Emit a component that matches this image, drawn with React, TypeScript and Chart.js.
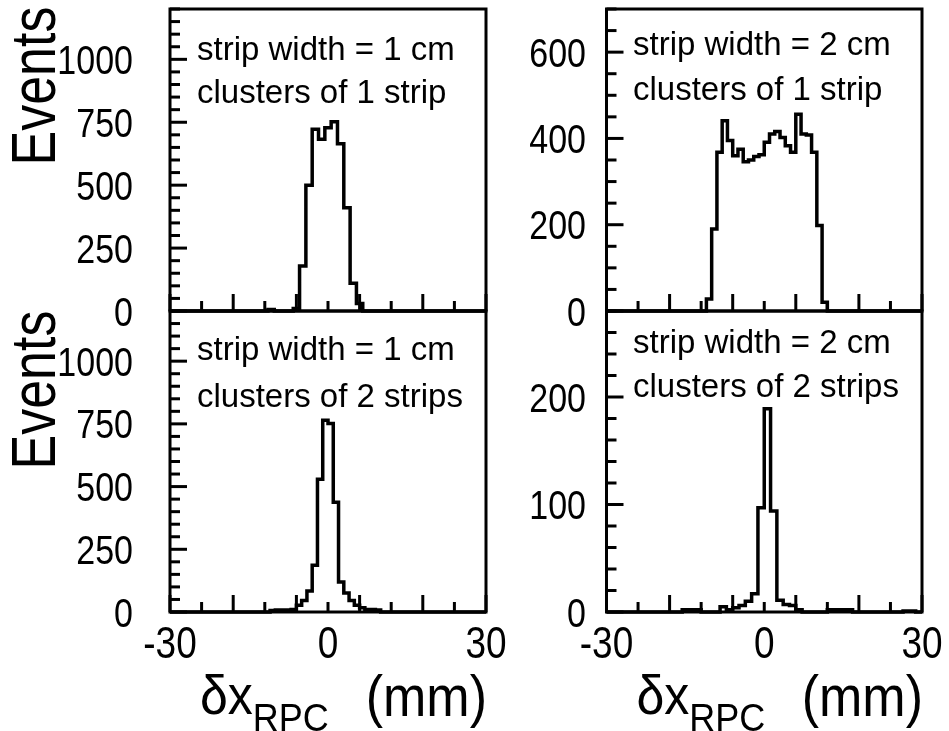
import React, { useEffect, useRef } from "react";
import { Chart, registerables } from "chart.js";

Chart.register(...registerables);

// ---------------- data ----------------
const X_MIN = -30;
const X_MAX = 30;
const X_MAJOR_TICKS = [-30, -18, -6, 6, 18, 30];
const X_MINOR_TICKS = [-24, -12, 0, 12, 24];
const X_TICK_LABELS = [-30, 0, 30];

// top-left: strip width = 1 cm, clusters of 1 strip
const TL_BIN_START = -11.4;
const TL_BIN_WIDTH = 1.2;
const TL_COUNTS = [6, 0, 0, 0, 10, 179, 500, 722, 682, 728, 752, 665, 410, 110, 30];
const TL_Y_MAX = 1200;
const TL_Y_LABELS = [0, 250, 500, 750, 1000];

// top-right: strip width = 2 cm, clusters of 1 strip
const TR_BIN_START = -11;
const TR_BIN_WIDTH = 1;
const TR_COUNTS = [28, 190, 368, 441, 395, 360, 375, 346, 350, 358, 362, 391, 410, 416, 402, 383, 368, 456, 410, 408, 368, 198, 20];
const TR_Y_MAX = 700;
const TR_Y_LABELS = [0, 200, 400, 600];

// bottom-left: strip width = 1 cm, clusters of 2 strips
const BL_BIN_START = -11;
const BL_BIN_WIDTH = 1;
const BL_COUNTS = [6, 8, 8, 8, 10, 27, 46, 84, 186, 529, 764, 751, 438, 120, 76, 46, 27, 17, 10, 10, 8];
const BL_Y_MAX = 1200;
const BL_Y_LABELS = [0, 250, 500, 750, 1000];

// bottom-right: strip width = 2 cm, clusters of 2 strips
const BR_BIN_START = -15.6;
const BR_BIN_WIDTH = 1.2;
const BR_COUNTS = [2, 2, 2, 0, 0, 0, 5, 2, 4, 6, 10, 17, 97, 189, 94, 11, 7, 6, 2, 0, 0, 0, 0, 2, 2, 2, 2, 0, 0, 0, 0, 0, 0, 0, 0, 1, 1];
const BR_Y_MAX = 280;
const BR_Y_LABELS = [0, 100, 200];

const LINE1_1CM = "strip width = 1 cm";
const LINE1_2CM = "strip width = 2 cm";
const LINE2_1 = "clusters of 1 strip";
const LINE2_2 = "clusters of 2 strips";
const Y_TITLE = "Events";

// ---------------- layout / style ----------------
const W = 949;
const H = 731;
const FONT = '"Liberation Sans", Arial, Helvetica, sans-serif';

type Panel = {
  key: string;
  left: number; right: number; top: number; bottom: number;
  binStart: number; binWidth: number; counts: number[];
  yMax: number; yMajor: number; yMinor: number; yLabels: number[];
  yLabelRight: number;
  text1: string; text2: string; textX: number; base1: number; base2: number;
  xLabels: boolean; xTitle: boolean;
  yTitleY: number | null;
};

const PANELS: Panel[] = [
  { key: "tl", left: 170, right: 486, top: 9, bottom: 311,
    binStart: TL_BIN_START, binWidth: TL_BIN_WIDTH, counts: TL_COUNTS,
    yMax: TL_Y_MAX, yMajor: 250, yMinor: 50, yLabels: TL_Y_LABELS, yLabelRight: 133,
    text1: LINE1_1CM, text2: LINE2_1, textX: 197, base1: 60, base2: 103,
    xLabels: false, xTitle: false, yTitleY: 86 },
  { key: "tr", left: 606.5, right: 922, top: 9, bottom: 311,
    binStart: TR_BIN_START, binWidth: TR_BIN_WIDTH, counts: TR_COUNTS,
    yMax: TR_Y_MAX, yMajor: 200, yMinor: 50, yLabels: TR_Y_LABELS, yLabelRight: 586,
    text1: LINE1_2CM, text2: LINE2_1, textX: 633, base1: 55, base2: 100,
    xLabels: false, xTitle: false, yTitleY: null },
  { key: "bl", left: 170, right: 486, top: 311, bottom: 612,
    binStart: BL_BIN_START, binWidth: BL_BIN_WIDTH, counts: BL_COUNTS,
    yMax: BL_Y_MAX, yMajor: 250, yMinor: 50, yLabels: BL_Y_LABELS, yLabelRight: 133,
    text1: LINE1_1CM, text2: LINE2_2, textX: 197, base1: 360, base2: 407,
    xLabels: true, xTitle: true, yTitleY: 390 },
  { key: "br", left: 606.5, right: 922, top: 311, bottom: 612,
    binStart: BR_BIN_START, binWidth: BR_BIN_WIDTH, counts: BR_COUNTS,
    yMax: BR_Y_MAX, yMajor: 100, yMinor: 20, yLabels: BR_Y_LABELS, yLabelRight: 586,
    text1: LINE1_2CM, text2: LINE2_2, textX: 633, base1: 353, base2: 397,
    xLabels: true, xTitle: true, yTitleY: null },
];

function histPoints(start: number, width: number, counts: number[]) {
  const pts: { x: number; y: number }[] = [{ x: X_MIN, y: 0 }];
  counts.forEach((c, i) => pts.push({ x: start + i * width, y: c }));
  pts.push({ x: start + counts.length * width, y: 0 });
  pts.push({ x: X_MAX, y: 0 });
  return pts;
}

function text(ctx: CanvasRenderingContext2D, s: string, x: number, y: number, size: number,
  align: CanvasTextAlign = "left", sx = 1, sy = 1) {
  ctx.save();
  ctx.translate(x, y);
  ctx.scale(sx, sy);
  ctx.font = `${size}px ${FONT}`;
  ctx.textAlign = align;
  ctx.textBaseline = "alphabetic";
  ctx.fillStyle = "#000";
  ctx.fillText(s, 0, 0);
  ctx.restore();
}

function makeDecor(p: Panel) {
  return {
    id: "decor_" + p.key,
    afterDatasetsDraw(chart: any) {
      const ctx: CanvasRenderingContext2D = chart.ctx;
      const a = chart.chartArea;
      const xs = chart.scales.x;
      const ys = chart.scales.y;
      ctx.save();
      ctx.strokeStyle = "#000";
      ctx.lineWidth = 3;
      ctx.lineCap = "butt";
      ctx.strokeRect(a.left, a.top, a.right - a.left, a.bottom - a.top);
      const seg = (x1: number, y1: number, x2: number, y2: number) => {
        ctx.beginPath(); ctx.moveTo(x1, y1); ctx.lineTo(x2, y2); ctx.stroke();
      };
      X_MAJOR_TICKS.forEach((v) => { const px = xs.getPixelForValue(v); seg(px, a.bottom, px, a.bottom - 17); });
      X_MINOR_TICKS.forEach((v) => { const px = xs.getPixelForValue(v); seg(px, a.bottom, px, a.bottom - 10); });
      for (let v = 0; v <= p.yMax + 1e-9; v += p.yMinor) {
        const py = ys.getPixelForValue(v);
        const major = Math.abs(v / p.yMajor - Math.round(v / p.yMajor)) < 1e-6;
        seg(a.left, py, a.left + (major ? 17 : 10), py);
      }
      ctx.restore();

      // y labels
      p.yLabels.forEach((v) => {
        const py = ys.getPixelForValue(v);
        text(ctx, String(v), p.yLabelRight, py + 14.5, 34, "right", 1, 1.22);
      });
      // x labels
      if (p.xLabels) {
        X_TICK_LABELS.forEach((v) => {
          const px = xs.getPixelForValue(v);
          text(ctx, String(v), px, 658, 37, "center", 1, 1.18);
        });
      }
      // annotation
      text(ctx, p.text1, p.textX, p.base1, 33);
      text(ctx, p.text2, p.textX, p.base2, 33);
      // x title
      if (p.xTitle) {
        const x0 = a.left + 30;
        ctx.save();
        ctx.font = `50px ${FONT}`;
        const w1 = ctx.measureText("\u03b4x").width;
        ctx.restore();
        text(ctx, "\u03b4x", x0, 714, 50, "left", 1, 1.12);
        text(ctx, "RPC", x0 + w1, 731, 36, "left", 1, 1.1);
        text(ctx, "(mm)", a.right + 1, 716, 52, "right", 1, 1.1);
      }
      // y title
      if (p.yTitleY !== null) {
        ctx.save();
        ctx.translate(55, p.yTitleY);
        ctx.rotate(-Math.PI / 2);
        ctx.scale(1, 1.2);
        ctx.font = `52px ${FONT}`;
        ctx.textAlign = "center";
        ctx.textBaseline = "alphabetic";
        ctx.fillStyle = "#000";
        ctx.fillText(Y_TITLE, 0, 0);
        ctx.restore();
      }
    },
  };
}

function PanelCanvas({ p }: { p: Panel }) {
  const ref = useRef<HTMLCanvasElement | null>(null);
  useEffect(() => {
    if (!ref.current) return;
    const chart = new Chart(ref.current, {
      type: "line",
      data: {
        datasets: [
          {
            data: histPoints(p.binStart, p.binWidth, p.counts),
            stepped: true,
            borderColor: "#000",
            borderWidth: 3.5,
            borderJoinStyle: "miter",
            pointRadius: 0,
            fill: false,
            tension: 0,
            clip: 4,
          } as any,
        ],
      },
      options: {
        responsive: false,
        animation: false,
        events: [],
        layout: { padding: { left: p.left, right: W - p.right, top: p.top, bottom: H - p.bottom } },
        scales: {
          x: { type: "linear", min: X_MIN, max: X_MAX, display: false },
          y: { type: "linear", min: 0, max: p.yMax, display: false },
        },
        plugins: { legend: { display: false }, tooltip: { enabled: false }, title: { display: false } },
      },
      plugins: [makeDecor(p)],
    });
    return () => chart.destroy();
  }, [p]);
  return (
    <canvas
      ref={ref}
      width={W}
      height={H}
      style={{ position: "absolute", left: 0, top: 0, width: W, height: H }}
    />
  );
}

export default function App() {
  return (
    <div style={{ position: "fixed", left: 0, top: 0, width: W, height: H, background: "#fff" }}>
      {PANELS.map((p) => (
        <PanelCanvas key={p.key} p={p} />
      ))}
    </div>
  );
}
